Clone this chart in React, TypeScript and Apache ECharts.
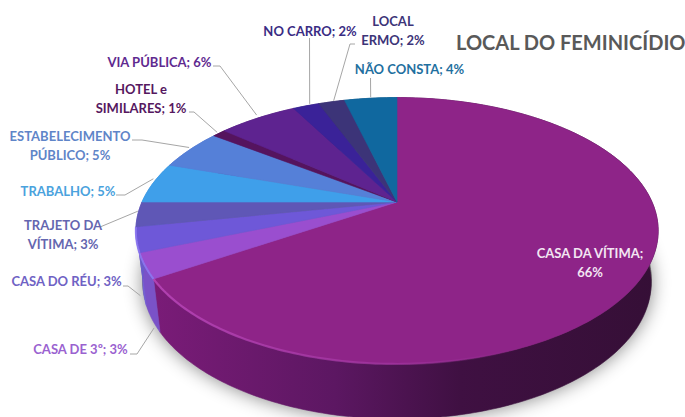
import React, { useEffect, useRef } from "react";
import * as echarts from "echarts";

const categories = [
  "CASA DA VÍTIMA",
  "CASA DE 3º",
  "CASA DO RÉU",
  "TRAJETO DA\nVÍTIMA",
  "TRABALHO",
  "ESTABELECIMENTO\nPÚBLICO",
  "HOTEL e\nSIMILARES",
  "VIA PÚBLICA",
  "NO CARRO",
  "LOCAL\nERMO",
  "NÃO CONSTA",
];
const values = [66, 3, 3, 3, 5, 5, 1, 6, 2, 2, 4];
const sliceColors = ["#8e2488", "#9a4ecf", "#6e58d8", "#5f57b6", "#3f9fea", "#5580d8", "#55145e", "#5e2390", "#3a2298", "#3c3478", "#10689f"];
const labelColors = ["#f3e6f3", "#9a62d0", "#6f62c4", "#6466b0", "#4aa2dd", "#5f85c8", "#56185f", "#5f2a90", "#3a2c84", "#3c3478", "#1f70a0"];
const wallColors = ["#5a1660", "#7a52c8", "#7460d8", "#6a5cc8", "#3f8fd8", "#5070c8", "#451050", "#4e1c78", "#30207a", "#302a60", "#0c5480"];
const title = "LOCAL DO FEMINICÍDIO";

// layout of the projected disc
const APEX = { x: 397, y: 202 };
const K = 0.216, SX = 255, SY = 127;
const TOP_CY = 228, TOP_RX = 262, TOP_RY = 134;
const BOT_CY = 280, BOT_RX = 255, BOT_RY = 137;

// label placement: centre of text, then leader from label side to the slice
const labelLayout: any[] = [
  { c: [590, 262.5], sep: ";\n" },
  { c: [80.5, 349], via: [[130, 354], [137, 354]], off: [9, 62] },
  { c: [66.5, 281], via: [[123, 286], [128, 286]], off: [4, 56] },
  { c: [63, 234.5], via: [[100, 227]], off: [0, -3] },
  { c: [68, 191], via: [[116, 195], [125, 195]], off: [0, -4] },
  { c: [70, 145], via: [[132, 140], [142, 140]], off: [-1, -2] },
  { c: [141, 98.5], via: [[189, 112], [194, 112]], off: [-2, -1] },
  { c: [159.5, 62], via: [[213, 66], [220, 66]], off: [-1, -3] },
  { c: [310, 31], via: [[309.5, 38]], off: [3.5, -2] },
  { c: [393, 30], via: [[355, 44], [350, 44]], off: [2, -1] },
  { c: [409.5, 69], via: [[370.5, 78]], off: [0, -1] },
];

const total = values.reduce((a, b) => a + b, 0);
const topPoint = (deg: number) => {
  const r = (deg * Math.PI) / 180;
  const X = Math.sin(r), Y = Math.cos(r);
  const w = 1 + K * Y;
  return [APEX.x + (SX * X) / w, APEX.y - (SY * Y) / w];
};
const botPoint = (deg: number) => {
  const p = topPoint(deg);
  return [APEX.x + ((p[0] - APEX.x) * BOT_RX) / TOP_RX, BOT_CY + ((p[1] - TOP_CY) * BOT_RY) / TOP_RY];
};
const arc = (a: number, b: number, fn: (d: number) => number[]) => {
  const n = Math.max(2, Math.ceil(Math.abs(b - a)));
  const pts: number[][] = [];
  for (let i = 0; i <= n; i++) pts.push(fn(a + ((b - a) * i) / n));
  return pts;
};
const angleRange = (index: number, value: number) => {
  let before = 0;
  for (let i = 0; i < index; i++) before += values[i];
  return [(before / total) * 360, ((before + value) / total) * 360];
};

const FONT = 'bold 13px Lato, "Open Sans", sans-serif';

export default function App() {
  const ref = useRef<HTMLDivElement>(null);
  useEffect(() => {
    document.body.style.margin = "0";
    const chart = echarts.init(ref.current!, undefined, { renderer: "svg" });
    const rows = values.map((v, i) => [i, v]);
    const mainWall = new echarts.graphic.LinearGradient(135, 0, 660, 0, [
      { offset: 0, color: "#7d1c7a" },
      { offset: 0.38, color: "#5c1762" },
      { offset: 0.62, color: "#3f1042" },
      { offset: 1, color: "#350f36" },
    ], true);
    const rim = new echarts.graphic.LinearGradient(157, 0, 520, 0, [
      { offset: 0, color: "rgba(185,70,185,0.85)" },
      { offset: 0.6, color: "rgba(170,60,170,0.6)" },
      { offset: 1, color: "rgba(170,60,170,0)" },
    ], true);
    chart.setOption({
      animation: false,
      backgroundColor: "#ffffff",
      title: {
        text: title,
        left: 451,
        top: 27,
        textStyle: { fontFamily: "Lato, sans-serif", fontWeight: "bold", fontSize: 20, color: "#595959" },
      },
      graphic: [
        {
          type: "ellipse",
          z: 0,
          shape: { cx: APEX.x, cy: BOT_CY, rx: BOT_RX, ry: BOT_RY },
          style: { fill: "#777", shadowBlur: 18, shadowColor: "rgba(0,0,0,0.45)", shadowOffsetY: 3 },
        },
      ],
      series: [
        {
          type: "custom",
          coordinateSystem: "none",
          z: 2,
          silent: true,
          data: rows,
          renderItem: (_p: any, api: any) => {
            const i = api.value(0);
            const [a, b] = angleRange(i, api.value(1));
            const points = [...arc(a, b, topPoint), ...arc(b, a, botPoint)];
            const fill = i === 0 ? mainWall : wallColors[i];
            return {
              type: "polygon",
              shape: { points },
              style: { fill, stroke: fill, lineWidth: 0.6 },
            };
          },
        },
        {
          type: "custom",
          coordinateSystem: "none",
          z: 3,
          silent: true,
          data: rows,
          renderItem: (_p: any, api: any) => {
            const i = api.value(0);
            const [a, b] = angleRange(i, api.value(1));
            const points = [[APEX.x, APEX.y], ...arc(a, b, topPoint)];
            const children: any[] = [
              {
                type: "polygon",
                shape: { points },
                style: { fill: sliceColors[i], stroke: sliceColors[i], lineWidth: 0.6 },
              },
            ];
            if (i === 0) {
              children.push({
                type: "polyline",
                shape: { points: arc(135, b, topPoint) },
                style: { fill: "none", stroke: rim, lineWidth: 2.2 },
              });
            }
            if (i === 1 || i === 2) {
              children.push({
                type: "polyline",
                shape: { points: arc(a, b, topPoint) },
                style: { fill: "none", stroke: "rgba(140,120,240,0.9)", lineWidth: 2 },
              });
            }
            return { type: "group", children };
          },
        },
        {
          type: "custom",
          coordinateSystem: "none",
          z: 4,
          silent: true,
          data: rows,
          renderItem: (_p: any, api: any) => {
            const i = api.value(0);
            const [a, b] = angleRange(i, api.value(1));
            const lay = labelLayout[i];
            const children: any[] = [];
            if (lay.via) {
              const m = topPoint((a + b) / 2);
              const end = [m[0] + lay.off[0], m[1] + lay.off[1]];
              children.push({
                type: "polyline",
                shape: { points: [...lay.via, end] },
                style: { fill: "none", stroke: "#a6a6a6", lineWidth: 1 },
              });
            }
            children.push({
              type: "text",
              style: {
                text: `${categories[i]}${lay.sep || "; "}${api.value(1)}%`,
                x: lay.c[0],
                y: lay.c[1],
                textAlign: "center",
                textVerticalAlign: "middle",
                font: FONT,
                lineHeight: 19,
                fill: labelColors[i],
              },
            });
            return { type: "group", children };
          },
        },
      ],
    });
    return () => chart.dispose();
  }, []);
  return <div ref={ref} style={{ width: 685, height: 417 }} />;
}
